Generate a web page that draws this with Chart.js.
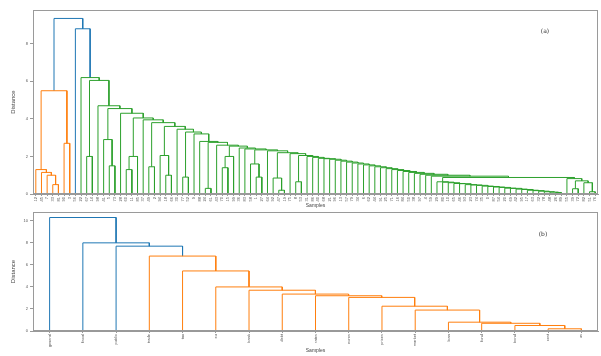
<!DOCTYPE html>
<html lang="en">
<head>
<meta charset="UTF-8">
<title>Dendrograms</title>
<script src="https://cdn.jsdelivr.net/npm/chart.js"></script>
<style>
    body { margin: 0; background: white; font-family: "DejaVu Sans", sans-serif; }
    #wrap { position: relative; width: 601px; height: 356px; }
    canvas { position: absolute; left: 0; }
</style>
</head>
<body>
<div id="wrap">
    <canvas id="chartA" width="601" height="212" style="top:0px"></canvas>
    <canvas id="chartB" width="601" height="150" style="top:206px"></canvas>
</div>
<script>
// ---- panel (a): 100 samples ----
// a tree node is [height, left, right]; 0 stands for a leaf
var orangeA = [5.5, [1.3, 0, [1.15, 0, [1.0, 0, [0.5, 0, 0]]]], [2.7, 0, 0]];
var blueJoinA = 8.8;
var rootHeightA = 9.35;

// green cluster: groups joined one after another along a spine
var greenGroupsA = [
    0, [2.0, 0, 0], 0, [2.9, 0, [1.5, 0, 0]], 0, [2.0, [1.3, 0, 0], 0], 0, [1.45, 0, 0],
    [2.05, 0, [1.0, 0, 0]], 0, [0.9, 0, 0], 0, 0, [0.3, 0, 0], 0, [2.0, [1.4, 0, 0], 0],
    0, 0, [1.6, 0, [0.9, 0, 0]], 0, [0.85, 0, [0.2, 0, 0]], 0, [0.65, 0, 0],
    0, 0, 0, 0, 0, 0, 0, 0, 0, 0, 0, 0, 0, 0, 0, 0, 0, 0, 0, 0, 0, 0, 0
];
var greenSpineA = [
    6.2, 6.05, 4.7, 4.55, 4.3, 4.05, 3.95, 3.8, 3.6, 3.45, 3.3, 3.2, 2.8, 2.75, 2.6, 2.55,
    2.45, 2.4, 2.35, 2.3, 2.2, 2.15, 2.05, 2.0, 1.95, 1.9, 1.88, 1.85, 1.8, 1.75, 1.7, 1.65,
    1.6, 1.55, 1.5, 1.45, 1.4, 1.35, 1.3, 1.25, 1.2, 1.15, 1.1, 1.05, 1.0, 0.95
];
var tailJoinA = 0.88;
var tailSpineA = [0.65, 0.63, 0.6, 0.56, 0.55, 0.5, 0.48, 0.46, 0.42, 0.4, 0.37, 0.35,
                  0.31, 0.3, 0.26, 0.24, 0.2, 0.18, 0.15, 0.12, 0.1, 0.08];
var rightClusterA = [0.82, 0, [0.7, [0.28, 0, 0], [0.6, 0, [0.12, 0, 0]]]];

var labelsA = [12, 45, 7, 33, 81, 90, 3, 56, 22, 67, 14, 98, 41, 5, 73, 28, 60, 11, 85, 37,
               49, 2, 94, 18, 66, 30, 77, 52, 9, 88, 24, 61, 43, 70, 15, 99, 36, 83, 58, 1,
               27, 64, 92, 47, 19, 75, 8, 53, 31, 86, 40, 68, 21, 96, 13, 57, 79, 34, 6, 62,
               44, 91, 25, 71, 16, 84, 50, 38, 97, 4, 59, 29, 80, 10, 65, 46, 93, 23, 74, 35,
               0, 87, 54, 20, 69, 42, 95, 17, 63, 32, 78, 48, 26, 89, 55, 39, 72, 82, 51, 76];
var yTicksA = [0, 2, 4, 6, 8];

// ---- panel (b): 17 words, joined one by one ----
var spineB = [10.3, 8.0, 7.7, 6.8, 5.45, 4.0, 3.7, 3.35, 3.2, 3.05, 2.25, 1.9, 0.8, 0.7, 0.5, 0.2];
var labelsB = ['general', 'fiscal', 'public', 'trade', 'tax', 'eu', 'bank', 'debt', 'rates',
               'euros', 'prices', 'market', 'loan', 'fund', 'bond', 'cost', 'us'];
var yTicksB = [0, 2, 4, 6, 8, 10];

var blue = '#1f77b4';
var clusterColors = ['#ff7f0e', '#2ca02c'];

function chain(groups, heights) {
    var node = groups[groups.length - 1];
    for (var k = heights.length - 1; k >= 0; k--) node = [heights[k], groups[k], node];
    return node;
}

var tailLeavesA = new Array(tailSpineA.length + 1).fill(0);
var greenA = chain(greenGroupsA.concat([[tailJoinA, chain(tailLeavesA, tailSpineA), rightClusterA]]), greenSpineA);
var treeA = [rootHeightA, orangeA, [blueJoinA, 0, greenA]];
var treeB = chain(new Array(spineB.length + 1).fill(0), spineB);

// scipy-like layout: leaf i at 10*i+5, links below 0.7*max get a cluster colour
function buildLinks(tree) {
    var links = [], leafCount = 0, next = 0;
    var threshold = 0.7 * tree[0];
    function walk(node, color) {
        if (!Array.isArray(node)) {
            var x = 10 * leafCount + 5;
            leafCount++;
            return { x: x, h: 0 };
        }
        var c = color;
        if (!c && node[0] < threshold) c = clusterColors[next++];
        var l = walk(node[1], c), r = walk(node[2], c);
        links.push({
            pts: [{ x: l.x, y: l.h }, { x: l.x, y: node[0] }, { x: r.x, y: node[0] }, { x: r.x, y: r.h }],
            color: c || blue
        });
        return { x: (l.x + r.x) / 2, h: node[0] };
    }
    walk(tree, null);
    return { links: links, n: leafCount };
}

var framePlugin = {
    id: 'frame',
    afterDraw: function (chart) {
        var a = chart.chartArea, c = chart.ctx, o = chart.options.plugins.frame;
        c.save();
        c.strokeStyle = '#9a9a9a';
        c.lineWidth = 1;
        c.strokeRect(a.left + 0.5, a.top + 0.5, a.right - a.left - 1, a.bottom - a.top - 1);
        c.fillStyle = '#333';
        c.font = '6px "DejaVu Sans"';
        c.textAlign = 'center';
        c.textBaseline = 'middle';
        c.fillText(o.tag, a.right - o.tagDx, a.top + o.tagDy);
        c.restore();
    }
};

function makeChart(id, tree, labels, yMax, yTicks, opt) {
    var built = buildLinks(tree);
    var datasets = built.links.map(function (l) {
        return { data: l.pts, borderColor: l.color, borderWidth: 1, pointRadius: 0, showLine: true, fill: false };
    });
    return new Chart(document.getElementById(id), {
        type: 'scatter',
        data: { datasets: datasets },
        plugins: [framePlugin],
        options: {
            responsive: false,
            animation: false,
            layout: { padding: { left: 0, right: 3, top: opt.padTop, bottom: 0 } },
            plugins: {
                legend: { display: false },
                tooltip: { enabled: false },
                frame: { tag: opt.tag, tagDx: opt.tagDx, tagDy: opt.tagDy }
            },
            scales: {
                x: {
                    type: 'linear', min: 0, max: 10 * built.n,
                    afterBuildTicks: function (s) { s.ticks = labels.map(function (t, i) { return { value: 10 * i + 5 }; }); },
                    afterFit: function (s) { s.height = opt.xAxisH; },
                    ticks: {
                        autoSkip: false, minRotation: 90, maxRotation: 90, padding: 1,
                        font: { size: opt.xFont }, color: '#555',
                        callback: function (v, i) { return String(labels[i]); }
                    },
                    grid: { drawOnChartArea: false, tickLength: 2, color: '#999' },
                    border: { color: '#999' },
                    title: { display: true, text: 'Samples', font: { size: 5 }, color: '#444', padding: { top: 0, bottom: opt.titleBottom } }
                },
                y: {
                    min: 0, max: yMax,
                    afterBuildTicks: function (s) { s.ticks = yTicks.map(function (v) { return { value: v }; }); },
                    afterFit: function (s) { s.width = 33; },
                    ticks: { font: { size: 4 }, color: '#555', padding: 2 },
                    grid: { drawOnChartArea: false, tickLength: 3, color: '#999' },
                    border: { color: '#999' },
                    title: { display: true, text: 'Distance', font: { size: 6 }, color: '#444', padding: { top: 10, bottom: 0 } }
                }
            }
        }
    });
}

makeChart('chartA', treeA, labelsA, 9.8, yTicksA,
    { padTop: 10, xAxisH: 18, xFont: 4, titleBottom: 3, tag: '(a)', tagDx: 53, tagDy: 21 });
makeChart('chartB', treeB, labelsB, 10.8, yTicksB,
    { padTop: 6, xAxisH: 25, xFont: 4, titleBottom: 2, tag: '(b)', tagDx: 55, tagDy: 22 });
</script>
</body>
</html>
